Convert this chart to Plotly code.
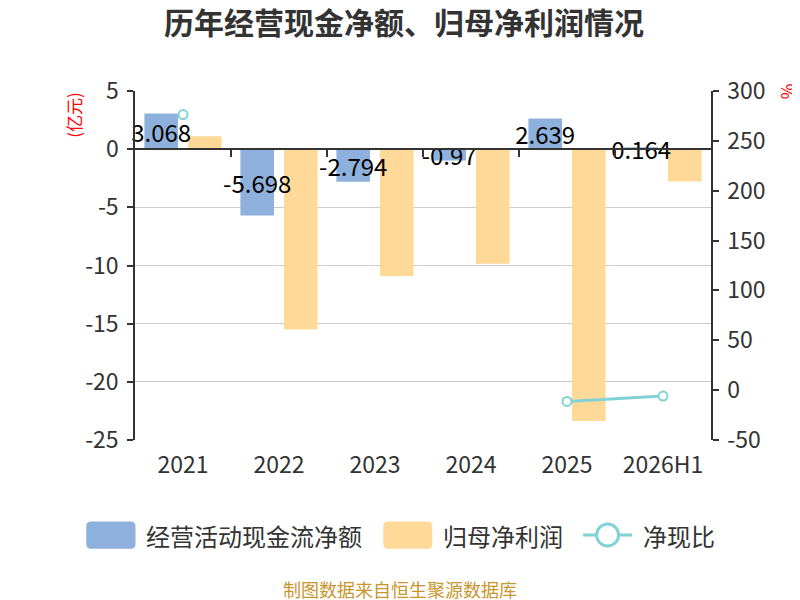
import plotly.graph_objects as go

# data
years = ['2021', '2022', '2023', '2024', '2025', '2026H1']
cash_flow = [3.068, -5.698, -2.794, -0.97, 2.639, 0.164]     # 经营活动现金流净额 (亿元)
net_profit = [1.11, -15.5, -10.9, -9.85, -23.36, -2.79]      # 归母净利润 (亿元)
cash_ratio = [276.4, None, None, None, -11.3, -5.9]          # 净现比 (%)
left_ticks = [5, 0, -5, -10, -15, -20, -25]
right_ticks = [300, 250, 200, 150, 100, 50, 0, -50]

FONT = 'Noto Sans CJK SC'
BLUE = '#8eb0dc'
ORANGE = '#fed998'
TEAL = '#80d2d6'
INK = '#333333'

# the page body has an 8px margin, so the figure is drawn 8px in
OFF = 8
FIG_W, FIG_H = 800 - OFF, 600 - OFF

# plot area in page pixels
L, R, T, B = 134.5, 711, 90.7, 440.3
W, H = R - L, B - T


def px(x):
    return (x - L) / W


def py(y):
    return (B - y) / H


fig = go.Figure()

fig.add_trace(go.Bar(
    x=years, y=net_profit, name='归母净利润',
    marker=dict(color=ORANGE, line=dict(width=0)),
    width=0.35, offset=0.052,
    hoverinfo='x+y',
))

fig.add_trace(go.Bar(
    x=years, y=cash_flow, name='经营活动现金流净额',
    marker=dict(color=BLUE, line=dict(width=0)),
    width=0.35, offset=-0.402,
    text=[f'{v:g}' for v in cash_flow],
    textposition='inside', insidetextanchor='middle',
    constraintext='none', textangle=0,
    insidetextfont=dict(family=FONT, size=24, color='black'),
    cliponaxis=False,
))

fig.add_trace(go.Scatter(
    x=years, y=cash_ratio, name='净现比', yaxis='y2',
    mode='lines+markers', connectgaps=False,
    line=dict(color=TEAL, width=3),
    marker=dict(symbol='circle', size=9, color='white',
                line=dict(color=TEAL, width=2)),
    cliponaxis=False,
))

# helper trace so the zero-line category axis gets drawn
fig.add_trace(go.Scatter(
    x=[0], y=[0], xaxis='x2', mode='markers',
    marker=dict(opacity=0), hoverinfo='skip', showlegend=False,
))

# legend drawn by hand to get the large symbols
shapes = []
annotations = []


def rounded_rect(x0, y0, x1, y1, r, color):
    rx, ry = r / W, r / H
    a0, a1 = px(x0), px(x1)
    b0, b1 = py(y1), py(y0)
    path = (f'M {a0 + rx},{b0} L {a1 - rx},{b0} Q {a1},{b0} {a1},{b0 + ry} '
            f'L {a1},{b1 - ry} Q {a1},{b1} {a1 - rx},{b1} L {a0 + rx},{b1} '
            f'Q {a0},{b1} {a0},{b1 - ry} L {a0},{b0 + ry} Q {a0},{b0} {a0 + rx},{b0} Z')
    return dict(type='path', path=path, xref='paper', yref='paper',
                fillcolor=color, line=dict(width=0), layer='above')


def legend_text(x, y, text):
    return dict(text=text, x=px(x), y=py(y), xref='paper', yref='paper',
                xanchor='left', yanchor='middle', showarrow=False,
                font=dict(family=FONT, size=24, color=INK))


ly = 535.5
shapes.append(rounded_rect(85.7, 522, 135, 549.3, 5, BLUE))
annotations.append(legend_text(144, ly, '经营活动现金流净额'))
shapes.append(rounded_rect(383, 522, 432, 549.3, 5, ORANGE))
annotations.append(legend_text(441, ly, '归母净利润'))
shapes.append(dict(type='line', xref='paper', yref='paper',
                   x0=px(583), x1=px(632), y0=py(ly), y1=py(ly),
                   line=dict(color=TEAL, width=3)))
shapes.append(dict(type='circle', xref='paper', yref='paper',
                   x0=px(596.5), x1=px(618.5), y0=py(ly + 11), y1=py(ly - 11),
                   fillcolor='white', line=dict(color=TEAL, width=3)))
annotations.append(legend_text(641, ly, '净现比'))

annotations.append(dict(
    text='(亿元)', x=px(73), y=py(115), xref='paper', yref='paper',
    textangle=-90, showarrow=False, xanchor='center', yanchor='middle',
    font=dict(family=FONT, size=17, color='red')))
annotations.append(dict(
    text='%', x=px(786), y=py(91), xref='paper', yref='paper',
    textangle=-90, showarrow=False, xanchor='center', yanchor='middle',
    font=dict(family=FONT, size=17, color='red')))
annotations.append(dict(
    text='制图数据来自恒生聚源数据库', x=px(400), y=py(590), xref='paper', yref='paper',
    showarrow=False, xanchor='center', yanchor='middle',
    font=dict(family=FONT, size=18, color='#c8962e')))

fig.update_layout(
    width=FIG_W, height=FIG_H,
    margin=dict(l=L - OFF, r=800 - R, t=T - OFF, b=600 - B, pad=0),
    paper_bgcolor='white', plot_bgcolor='white',
    barmode='overlay',
    showlegend=False,
    font=dict(family=FONT, size=23, color=INK),
    title=dict(text='<b>历年经营现金净额、归母净利润情况</b>',
               x=0.5, xanchor='center', y=1 - (23 - OFF) / FIG_H, yanchor='middle',
               font=dict(family=FONT, size=30, color=INK)),
    xaxis=dict(
        type='category', range=[-0.5, 5.5],
        showline=False, showgrid=False, zeroline=False,
        ticks='', ticklabelstandoff=9,
        tickfont=dict(family=FONT, size=23, color=INK),
    ),
    xaxis2=dict(
        overlaying='x', anchor='free', position=25 / 30, side='bottom',
        range=[-0.5, 5.5], showgrid=False, zeroline=False,
        showline=True, linecolor=INK, linewidth=1.5,
        ticks='outside', ticklen=7, tickcolor=INK, tickwidth=1.5,
        tickvals=[0.5, 1.5, 2.5, 3.5, 4.5], showticklabels=False,
    ),
    yaxis=dict(
        range=[-25, 5], tickvals=left_ticks,
        ticktext=[str(v) for v in left_ticks],
        showgrid=True, gridcolor='#cccccc', gridwidth=1,
        zeroline=False,
        showline=True, linecolor=INK, linewidth=1.5,
        ticks='outside', ticklen=6, tickcolor=INK, tickwidth=1.5,
        ticklabelstandoff=4,
        tickfont=dict(family=FONT, size=23, color=INK),
    ),
    yaxis2=dict(
        overlaying='y', side='right', range=[-50, 300], tickvals=right_ticks,
        ticktext=[str(v) for v in right_ticks],
        showgrid=False, zeroline=False,
        showline=True, linecolor=INK, linewidth=1.5,
        ticks='outside', ticklen=6, tickcolor=INK, tickwidth=1.5,
        ticklabelstandoff=4,
        tickfont=dict(family=FONT, size=23, color=INK),
    ),
    shapes=shapes,
    annotations=annotations,
)

fig.write_html('out.html')
